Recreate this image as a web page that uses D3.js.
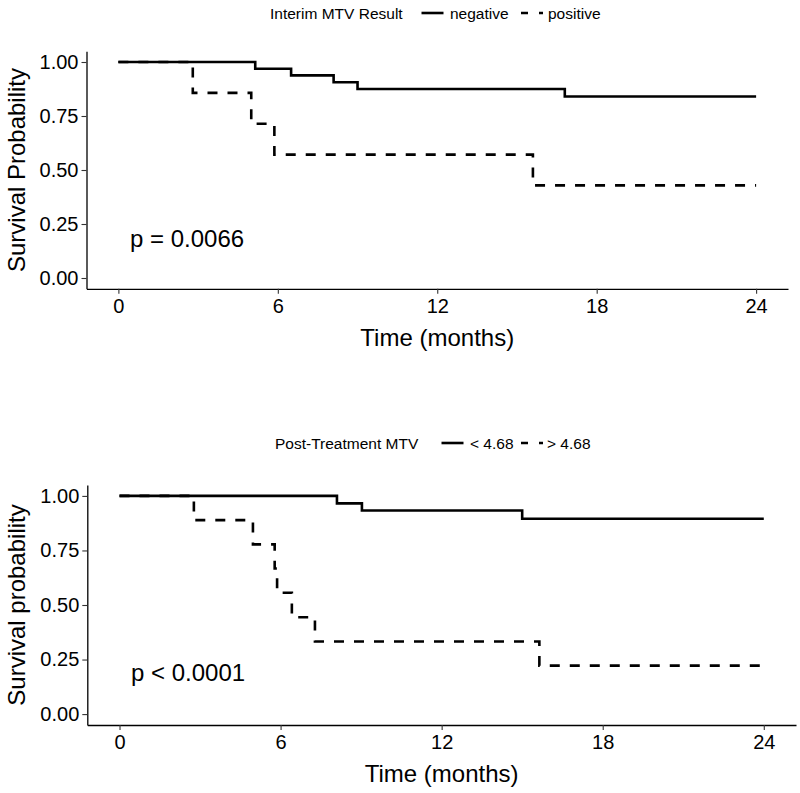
<!DOCTYPE html>
<html>
<head>
<meta charset="utf-8">
<script src="https://cdn.jsdelivr.net/npm/d3@7"></script>
<style>
  body { margin: 0; background: #fff; }
  svg { display: block; font-family: "Liberation Sans", Arial, sans-serif; }
</style>
</head>
<body>
<svg id="chart" width="800" height="793"></svg>
<script>
// ---- data ----
const timeTicks = [0, 6, 12, 18, 24];
const probTicks = [0, 0.25, 0.5, 0.75, 1];

// Panel 1: Interim MTV Result
const interimLegendTitle = "Interim MTV Result";
const interimGroups = ["negative", "positive"];
const interimNegTime = [0, 5.15, 6.5, 8.1, 9.0, 16.8, 24];
const interimNegSurv = [1, 0.969, 0.938, 0.906, 0.875, 0.84, 0.84];
const interimPosTime = [0, 2.8, 5.0, 5.87, 15.6, 24];
const interimPosSurv = [1, 0.857, 0.714, 0.571, 0.429, 0.429];
const interimPval = "p = 0.0066";
const interimYTitle = "Survival Probability";

// Panel 2: Post-Treatment MTV
const postLegendTitle = "Post-Treatment MTV";
const postGroups = ["< 4.68", "> 4.68"];
const postLowTime = [0, 8.1, 9.03, 15.0, 24];
const postLowSurv = [1, 0.966, 0.933, 0.895, 0.895];
const postHighTime = [0, 2.77, 4.97, 5.78, 5.87, 6.42, 7.28, 15.64, 24];
const postHighSurv = [1, 0.889, 0.778, 0.667, 0.556, 0.444, 0.333, 0.222, 0.222];
const postPval = "p < 0.0001";
const postYTitle = "Survival probability";

const xTitle = "Time (months)";

const svg = d3.select("#chart");

function zip(t, s) { return t.map((d, i) => ({ t: d, s: s[i] })); }

function drawPanel(cfg) {
  const g = svg.append("g");
  const x = d3.scaleLinear().domain([-1.2, 25.2]).range([cfg.left, cfg.right]);
  const y = d3.scaleLinear().domain([-0.05, 1.05]).range([cfg.bottom, cfg.top]);

  // axes
  const xAxis = d3.axisBottom(x).tickValues(timeTicks).tickSize(5).tickSizeOuter(0).tickPadding(5);
  const yAxis = d3.axisLeft(y).tickValues(probTicks).tickFormat(d3.format(".2f")).tickSize(5).tickSizeOuter(0).tickPadding(3);

  const gx = g.append("g").attr("transform", `translate(0,${cfg.bottom})`).call(xAxis);
  const gy = g.append("g").attr("transform", `translate(${cfg.left},0)`).call(yAxis);
  [gx, gy].forEach(a => {
    a.select(".domain").attr("stroke", "#000").attr("stroke-width", 1.3);
    a.selectAll(".tick line").attr("stroke", "#333").attr("stroke-width", 1.1);
    a.selectAll(".tick text").attr("fill", "#000").style("font-size", "20px")
      .style("font-family", "'Liberation Sans', Arial, sans-serif");
  });

  // curves
  const line = d3.line().x(d => x(d.t)).y(d => y(d.s)).curve(d3.curveStepAfter);
  g.append("path").datum(zip(cfg.t1, cfg.s1)).attr("d", line)
    .attr("fill", "none").attr("stroke", "#000").attr("stroke-width", 2.6);
  g.append("path").datum(zip(cfg.t2, cfg.s2)).attr("d", line)
    .attr("fill", "none").attr("stroke", "#000").attr("stroke-width", 2.6)
    .attr("stroke-dasharray", "10,10");

  // p-value
  g.append("text").attr("x", cfg.pvalX).attr("y", cfg.pvalY)
    .style("font-size", "24px").attr("fill", "#000").text(cfg.pval);

  // axis titles
  g.append("text").attr("x", (x(0) + x(24)) / 2).attr("y", cfg.bottom + 57)
    .attr("text-anchor", "middle").style("font-size", "24px").attr("fill", "#000").text(xTitle);
  g.append("text").attr("transform", `translate(25,${(cfg.top + cfg.bottom) / 2}) rotate(-90)`)
    .attr("text-anchor", "middle").style("font-size", "24px").attr("fill", "#000").text(cfg.yTitle);

  // legend
  const lg = g.append("g").attr("transform", `translate(0,${cfg.legY})`);
  lg.append("text").attr("x", cfg.legX[0]).attr("y", 5.5).style("font-size", "15.5px").attr("fill", "#000").text(cfg.legTitle);
  lg.append("line").attr("x1", cfg.legX[1]).attr("x2", cfg.legX[1] + 22).attr("y1", 0).attr("y2", 0)
    .attr("stroke", "#000").attr("stroke-width", 2.6);
  lg.append("text").attr("x", cfg.legX[2]).attr("y", 5.5).style("font-size", "15.5px").attr("fill", "#000").text(cfg.groups[0]);
  lg.append("line").attr("x1", cfg.legX[3]).attr("x2", cfg.legX[3] + 22).attr("y1", 0).attr("y2", 0)
    .attr("stroke", "#000").attr("stroke-width", 2.6).attr("stroke-dasharray", "7,11");
  lg.append("text").attr("x", cfg.legX[4]).attr("y", 5.5).style("font-size", "15.5px").attr("fill", "#000").text(cfg.groups[1]);
}

drawPanel({
  left: 86.5, right: 788, top: 51.2, bottom: 288.8,
  t1: interimNegTime, s1: interimNegSurv, t2: interimPosTime, s2: interimPosSurv,
  pval: interimPval, pvalX: 130, pvalY: 246.5, yTitle: interimYTitle,
  legTitle: interimLegendTitle, groups: interimGroups,
  legY: 13, legX: [270, 421.5, 450, 521, 548]
});

drawPanel({
  left: 87.3, right: 796, top: 485, bottom: 725,
  t1: postLowTime, s1: postLowSurv, t2: postHighTime, s2: postHighSurv,
  pval: postPval, pvalX: 131, pvalY: 680.5, yTitle: postYTitle,
  legTitle: postLegendTitle, groups: postGroups,
  legY: 443, legX: [275, 441.5, 470, 521, 547]
});
</script>
</body>
</html>
